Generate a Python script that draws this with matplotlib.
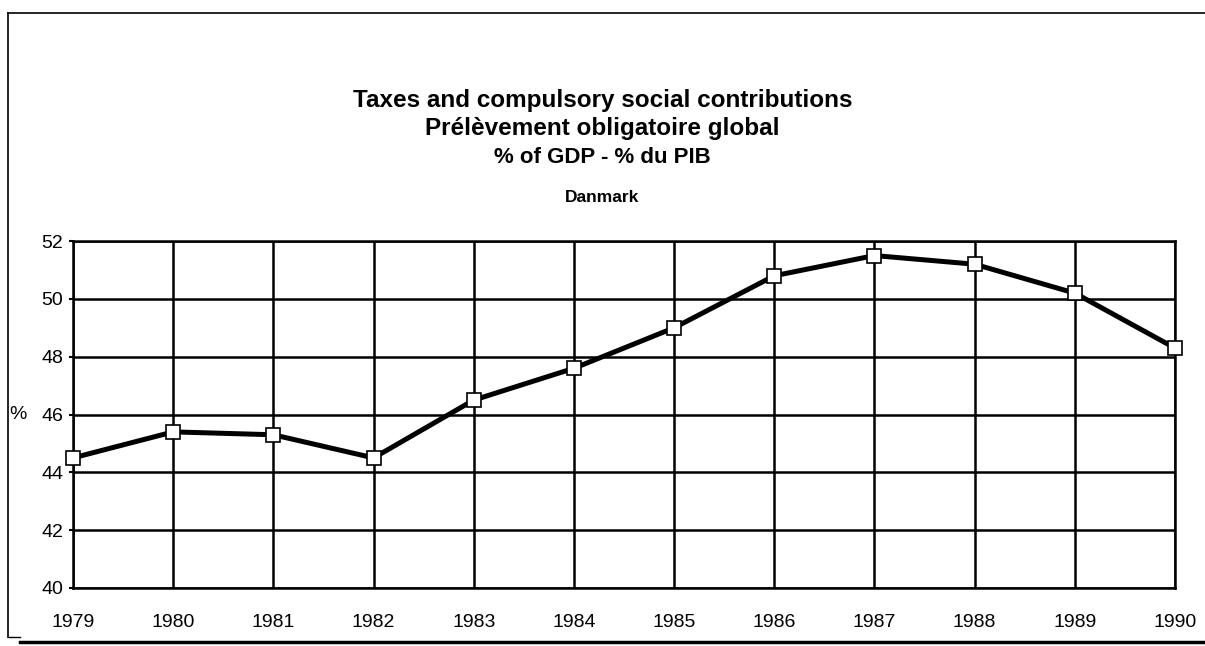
import matplotlib.pyplot as plt
from matplotlib.lines import Line2D

# Danmark, taxes and compulsory social contributions, % of GDP
years = [1979, 1980, 1981, 1982, 1983, 1984, 1985, 1986, 1987, 1988, 1989, 1990]
share_of_gdp = [44.5, 45.4, 45.3, 44.5, 46.5, 47.6, 49.0, 50.8, 51.5, 51.2, 50.2, 48.3]
y_ticks = [40, 42, 44, 46, 48, 50, 52]

title_lines = [
    "Taxes and compulsory social contributions",
    "Prélèvement obligatoire global",
    "% of GDP - % du PIB",
]
country = "Danmark"

plt.rcParams["font.family"] = ["Liberation Sans", "DejaVu Sans"]

fig = plt.figure(figsize=(12.05, 6.46), dpi=100)
ax = fig.add_axes([0.0606, 0.0898, 0.9145, 0.537])

ax.plot(
    years,
    share_of_gdp,
    color="black",
    linewidth=3.6,
    marker="s",
    markersize=10,
    markerfacecolor="white",
    markeredgecolor="black",
    markeredgewidth=1.2,
    zorder=3,
    clip_on=False,
)

ax.set_xlim(years[0], years[-1])
ax.set_ylim(y_ticks[0], y_ticks[-1])
ax.set_xticks(years)
ax.set_yticks(y_ticks)
ax.tick_params(axis="both", labelsize=14, length=3, width=1.5, color="black")
ax.tick_params(axis="x", pad=19, length=0)
ax.tick_params(axis="y", pad=4)
ax.grid(True, color="black", linewidth=1.8)
for spine in ax.spines.values():
    spine.set_linewidth(1.8)

# the "%" unit sits beside the 46 label
ax.text(-0.058, 0.5, "%", transform=ax.transAxes, fontsize=14,
        ha="left", va="center")

# titles
fig.text(0.5, 0.845, title_lines[0], ha="center", va="center",
         fontsize=17.5, fontweight="bold")
fig.text(0.5, 0.801, title_lines[1], ha="center", va="center",
         fontsize=17.5, fontweight="bold")
fig.text(0.5, 0.756, title_lines[2], ha="center", va="center",
         fontsize=16, fontweight="bold")
fig.text(0.5, 0.694, country, ha="center", va="center",
         fontsize=12.5, fontweight="bold")

# page frame (no right edge, heavier bottom edge)
fig.add_artist(Line2D([0.0066, 0.0066], [0.98, 0.014], transform=fig.transFigure,
                      color="black", linewidth=1.2))
fig.add_artist(Line2D([0.0066, 1.0], [0.98, 0.98], transform=fig.transFigure,
                      color="black", linewidth=1.2))
fig.add_artist(Line2D([0.0066, 0.017], [0.014, 0.014], transform=fig.transFigure,
                      color="black", linewidth=1.0))
fig.add_artist(Line2D([0.017, 1.0], [0.006, 0.006], transform=fig.transFigure,
                      color="black", linewidth=2.5))

fig.savefig("out.png", dpi=100)
